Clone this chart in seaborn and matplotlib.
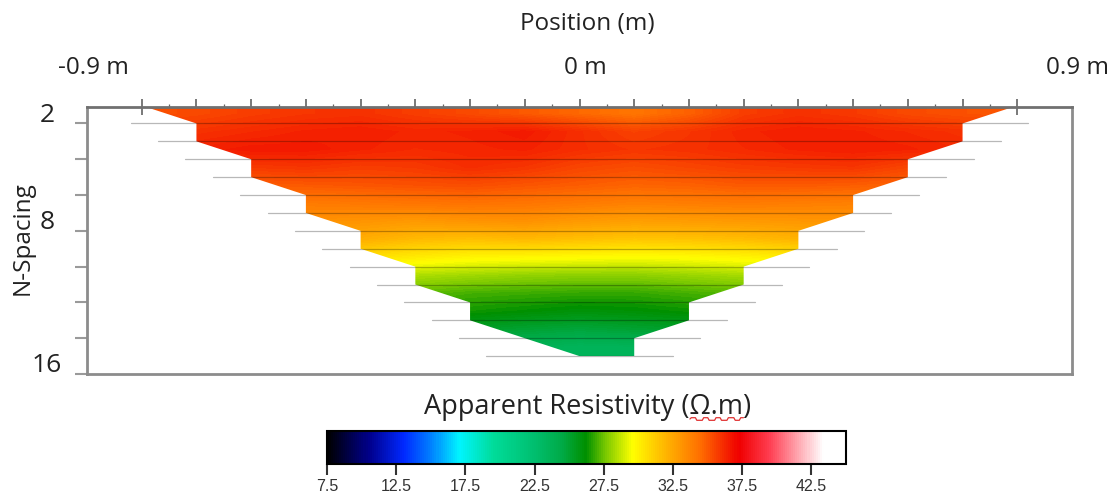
import numpy as np
import pandas as pd
import matplotlib
matplotlib.use("Agg")
import matplotlib.pyplot as plt
import matplotlib.transforms as mtransforms
import seaborn as sns
from matplotlib.colors import LinearSegmentedColormap, Normalize
from matplotlib.patches import Polygon
from matplotlib.lines import Line2D

# ---------------- data ----------------
positions = [-0.8, -0.7, -0.6, -0.5, -0.4, -0.3, -0.2, -0.1, 0.0,
             0.1, 0.2, 0.3, 0.4, 0.5, 0.6, 0.7, 0.8]
band_top_n = [1, 2, 3, 4, 5, 6, 7, 8, 9, 10, 11, 12, 13, 14]
nan = np.nan
# apparent resistivity (ohm.m), one row per N-spacing band, one column per position
band_values = [
    [35.2, 35.4, 35.7, 35.9, 36.0, 35.7, 35.4, 35.0, 34.6, 34.2, 34.8, 35.7, 36.0, 35.8, 35.4, 35.2, 35.0],
    [nan, 36.0, 36.2, 36.4, 36.5, 36.3, 36.4, 36.6, 36.1, 35.6, 35.9, 36.3, 36.5, 36.4, 36.2, 36.0, nan],
    [nan, 36.4, 36.6, 36.6, 36.4, 36.2, 36.3, 36.4, 36.1, 35.9, 36.0, 36.2, 36.4, 36.5, 36.4, 36.2, nan],
    [nan, nan, 35.8, 35.9, 35.7, 35.8, 36.1, 35.9, 35.5, 35.3, 35.5, 35.7, 35.8, 35.9, 35.5, nan, nan],
    [nan, nan, 34.9, 35.0, 35.1, 35.2, 35.3, 35.1, 34.9, 34.7, 34.8, 35.0, 35.0, 34.9, 34.7, nan, nan],
    [nan, nan, nan, 34.0, 34.1, 34.2, 34.3, 34.2, 34.0, 33.8, 33.9, 34.0, 33.9, 33.8, nan, nan, nan],
    [nan, nan, nan, 33.2, 33.1, 32.9, 33.1, 33.2, 32.9, 32.7, 32.8, 32.9, 33.0, 33.1, nan, nan, nan],
    [nan, nan, nan, nan, 32.2, 31.8, 31.6, 31.8, 31.6, 31.4, 31.5, 31.7, 32.0, nan, nan, nan, nan],
    [nan, nan, nan, nan, 30.6, 30.2, 29.9, 29.8, 29.7, 29.6, 29.7, 29.9, 30.2, nan, nan, nan, nan],
    [nan, nan, nan, nan, nan, 28.4, 28.2, 28.0, 27.9, 27.9, 28.1, 28.3, nan, nan, nan, nan, nan],
    [nan, nan, nan, nan, nan, 27.3, 27.0, 26.9, 26.8, 26.8, 27.0, 27.2, nan, nan, nan, nan, nan],
    [nan, nan, nan, nan, nan, nan, 26.4, 26.2, 26.0, 26.1, 26.3, nan, nan, nan, nan, nan, nan],
    [nan, nan, nan, nan, nan, nan, 25.3, 25.0, 24.8, 25.0, 25.2, nan, nan, nan, nan, nan, nan],
    [nan, nan, nan, nan, nan, nan, nan, 23.8, 23.5, 23.6, nan, nan, nan, nan, nan, nan, nan],
]
# outline of the measured pseudosection (position, N)
outline_x = [-0.8, 0.8, 0.7, 0.7, 0.6, 0.6, 0.5, 0.5, 0.4, 0.4, 0.3, 0.3, 0.2, 0.2, 0.1, 0.1,
             0.0, -0.2, -0.2, -0.3, -0.3, -0.4, -0.4, -0.5, -0.5, -0.6, -0.6, -0.7, -0.7]
outline_n = [1.0, 1.0, 2, 3, 4, 5, 6, 7, 8, 9, 10, 11, 12, 13, 14, 15,
             15, 13, 12, 11, 10, 9, 8, 7, 6, 5, 4, 3, 2]
# data level lines: N value and half-extent (m)
level_n = [2, 3, 4, 5, 6, 7, 8, 9, 10, 11, 12, 13, 14, 15]
level_half = [0.82, 0.77, 0.72, 0.67, 0.62, 0.57, 0.52, 0.47, 0.42, 0.37, 0.32, 0.27, 0.22, 0.17]

top_tick_values = [-0.9, 0.0, 0.9]
top_tick_labels = ["-0.9 m", "0 m", "0.9 m"]
y_label_values = [2, 8, 16]
y_tick_values = [2, 4, 6, 8, 10, 12, 14, 16]
cbar_ticks = [7.5, 12.5, 17.5, 22.5, 27.5, 32.5, 37.5, 42.5]
vmin, vmax = 7.5, 45.0

cmap_stops = [
    (7.5, "#000000"), (10.5, "#00008c"), (13.0, "#0028ff"), (15.0, "#0080ff"),
    (17.0, "#00f5ff"), (19.5, "#00dc9a"), (22.5, "#00be6e"), (24.5, "#00aa46"),
    (26.2, "#009000"), (27.6, "#78c800"), (29.6, "#ffff00"), (32.0, "#ffb400"),
    (34.5, "#ff6e00"), (37.3, "#f00000"), (39.5, "#ff3c50"), (41.5, "#ffa0aa"),
    (43.4, "#ffffff"), (45.0, "#ffffff"),
]

# ---------------- style ----------------
sns.set_theme(style="white")
plt.rcParams["font.family"] = ["Open Sans", "DejaVu Sans"]

cmap = LinearSegmentedColormap.from_list(
    "resist", [((v - vmin) / (vmax - vmin), c) for v, c in cmap_stops])
norm = Normalize(vmin=vmin, vmax=vmax)

fig = plt.figure(figsize=(11.18, 4.95), dpi=100)
ax = fig.add_axes([87 / 1118, 1 - 374 / 495, 985 / 1118, 267 / 495])

grid = pd.DataFrame(band_values, columns=positions, index=band_top_n)
filled = grid.ffill(axis=1).bfill(axis=1)
dx = 0.05
im = ax.imshow(filled.to_numpy(), cmap=cmap, norm=norm,
               extent=(positions[0] - dx, positions[-1] + dx, band_top_n[-1] + 1, band_top_n[0]),
               origin="upper", interpolation="bilinear", aspect="auto", zorder=1)
clip = Polygon(np.column_stack([outline_x, outline_n]), closed=True,
               transform=ax.transData, facecolor="none", edgecolor="none")
ax.add_patch(clip)
im.set_clip_path(clip)

# level lines
rows = []
for n, h in zip(level_n, level_half):
    rows.append({"x": -h, "n": n, "level": n})
    rows.append({"x": h, "n": n, "level": n})
lines_df = pd.DataFrame(rows)
sns.lineplot(data=lines_df, x="x", y="n", units="level", estimator=None,
             color="black", alpha=0.28, lw=0.9, legend=False, sort=False, ax=ax, zorder=2)

ax.set_xlim(-0.9, 0.9)
ax.set_ylim(16, 1.08)
ax.set_xlabel("")
ax.set_ylabel("")

# top ticks (electrodes)
ax.xaxis.tick_top()
ax.set_xticks(positions)
ax.set_xticklabels([])
ax.set_xticks([p + 0.05 for p in positions[:-1]], minor=True)
ax.tick_params(axis="x", which="major", top=True, bottom=False, direction="inout",
               length=11, width=1.1, color="#555555", labeltop=False)
ax.tick_params(axis="x", which="minor", top=True, bottom=False, direction="inout",
               length=5, width=0.9, color="#666666")
ax.set_yticks(y_tick_values)
ax.set_yticklabels([])
ax.tick_params(axis="y", which="major", left=True, direction="out",
               length=9, width=1.5, color="#9a9a9a")

for side, sp in ax.spines.items():
    sp.set_visible(True)
    sp.set_color("#8c8c8c")
    sp.set_linewidth(2)
ax.spines["top"].set_color("#707070")

# labels
fig.text(587 / 1118, 1 - 24 / 495, "Position (m)", ha="center", va="center",
         fontsize=17.5, color="#222222")
tr_x = mtransforms.offset_copy(
    mtransforms.blended_transform_factory(ax.transData, fig.transFigure), fig=fig, x=6, y=0, units="dots")
for v, lab in zip(top_tick_values, top_tick_labels):
    ax.text(v, 1 - 68 / 495, lab, transform=tr_x, ha="center", va="center",
            fontsize=17.5, color="#222222")
tr_y = mtransforms.offset_copy(
    mtransforms.blended_transform_factory(fig.transFigure, ax.transData), fig=fig, x=0, y=8, units="dots")
for v in y_label_values:
    ax.text(47 / 1118, v, str(v), transform=tr_y, ha="center", va="center",
            fontsize=19, color="#222222")
fig.text(23 / 1118, 1 - 238 / 495, "N-Spacing", rotation=90, ha="center", va="center",
         fontsize=17.5, color="#222222")

# colorbar
cax = fig.add_axes([327 / 1118, 1 - 464 / 495, 519 / 1118, 33 / 495])
cb = fig.colorbar(im, cax=cax, orientation="horizontal")
cb.set_ticks(cbar_ticks)
cb.set_ticklabels([f"{t:.1f}" for t in cbar_ticks])
cb.outline.set_edgecolor("black")
cb.outline.set_linewidth(1.5)
cax.tick_params(direction="out", length=8, width=1.5, color="#333333",
                labelsize=11.5, labelcolor="#333333", pad=3)
for t in cax.get_xticklabels():
    t.set_fontfamily(["Liberation Sans", "DejaVu Sans"])
    t.set_fontsize(11.5)
title_str = "Apparent Resistivity (Ω.m)"
title = fig.text(588 / 1118, 1 - 407 / 495, title_str, ha="center", va="center",
                 fontsize=19.5, color="#222222")

# spell-check style wavy underline under "Ω.m"
renderer = fig.canvas.get_renderer()
full_bb = title.get_window_extent(renderer)
probe = fig.text(0, 0, "Apparent Resistivity (", fontsize=19.5)
pre_w = probe.get_window_extent(renderer).width
probe2 = fig.text(0, 0, "Ω.m", fontsize=19.5)
sq_w = probe2.get_window_extent(renderer).width
probe.remove()
probe2.remove()
x0 = full_bb.x0 + pre_w
xs = np.linspace(x0, x0 + sq_w, 40)
ys = full_bb.y0 + 2 + 1.3 * np.sign(np.sin((xs - x0) / 2.0))
fig.add_artist(Line2D(xs / fig.bbox.width, ys / fig.bbox.height, color="#e03030",
                      lw=0.9, transform=fig.transFigure))

fig.savefig("out.png", dpi=100, facecolor="white")
